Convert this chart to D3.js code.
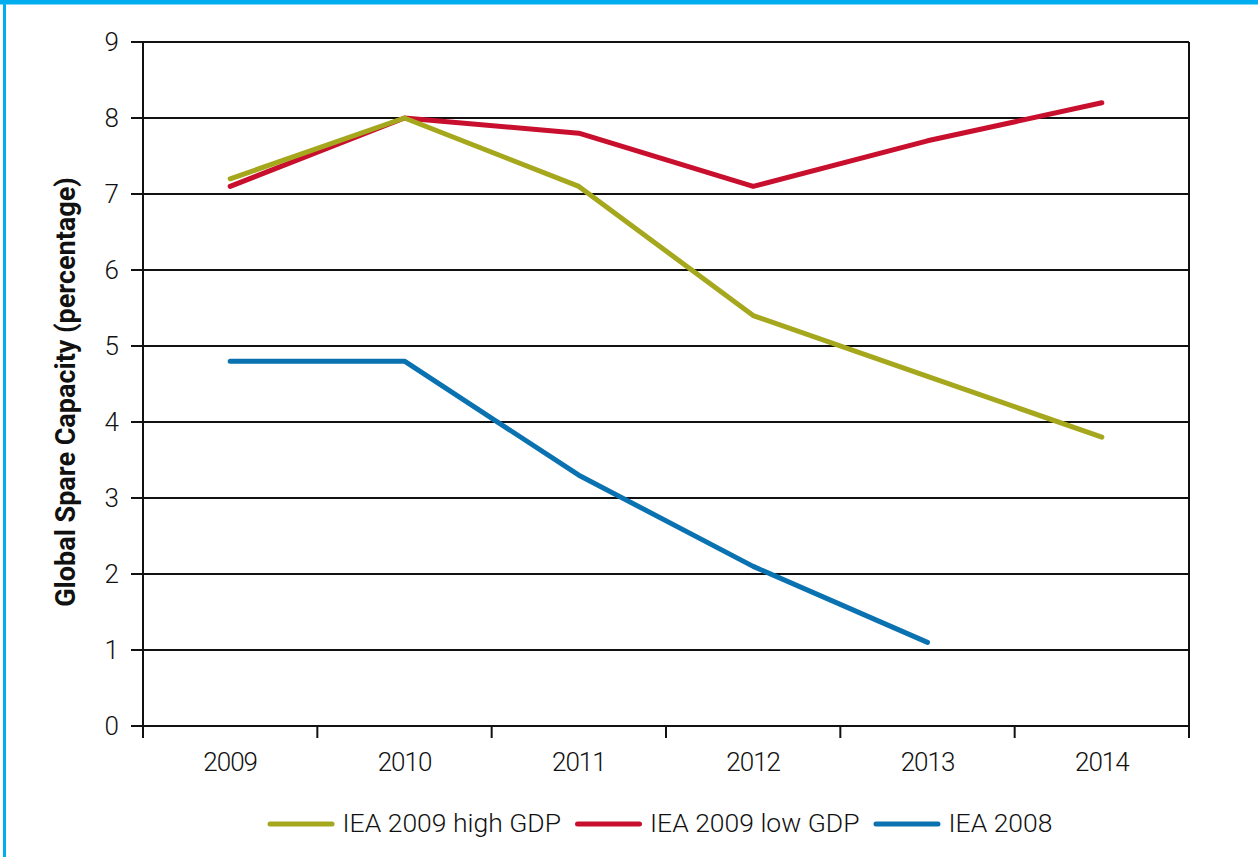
<!DOCTYPE html>
<html><head><meta charset="utf-8">
<script src="https://cdn.jsdelivr.net/npm/d3@7/dist/d3.min.js"></script>
<style>
html,body{margin:0;padding:0;background:#fff;}
svg{display:block;}
text{font-family:Roboto,"Liberation Sans",sans-serif;fill:#111;}
</style></head>
<body>
<script>
const years = ["2009","2010","2011","2012","2013","2014"];
const highGDP = [7.2, 8.0, 7.1, 5.4, 4.6, 3.8];
const lowGDP = [7.1, 8.0, 7.8, 7.1, 7.7, 8.2];
const iea2008 = [4.8, 4.8, 3.3, 2.1, 1.1, null];
const yTicks = [0,1,2,3,4,5,6,7,8,9];
const seriesNames = ["IEA 2009 high GDP","IEA 2009 low GDP","IEA 2008"];
const seriesColors = ["#a5a71c","#c8102e","#0a72b0"];

(function(){
const W = 1258, H = 857;
const svg = d3.select("body").append("svg").attr("width", W).attr("height", H);

// frame
svg.append("rect").attr("x",0).attr("y",0).attr("width",W).attr("height",4.5).attr("fill","#00aeef");
svg.append("rect").attr("x",3).attr("y",0).attr("width",3).attr("height",H).attr("fill","#00aeef");

const pL = 143, pR = 1189, pT = 42, pB = 726;
const x = d3.scaleBand().domain(years).range([pL, pR]);
const y = d3.scaleLinear().domain([0, 9]).range([pB, pT]);

// gridlines
svg.append("g").selectAll("line").data(yTicks).join("line")
  .attr("x1", pL - 12).attr("x2", pR)
  .attr("y1", d => y(d)).attr("y2", d => y(d))
  .attr("stroke", "#111").attr("stroke-width", 2);

// y labels
svg.append("g").selectAll("text").data(yTicks).join("text")
  .attr("x", pL - 24).attr("y", d => y(d)).attr("dy", "0.36em")
  .attr("text-anchor", "end").style("font-size", "26px").style("font-weight", "300").text(d => d);

// axis lines
svg.append("line").attr("x1", pL).attr("x2", pL).attr("y1", pT).attr("y2", pB + 12)
  .attr("stroke", "#111").attr("stroke-width", 2);
svg.append("line").attr("x1", pR).attr("x2", pR).attr("y1", pT).attr("y2", pB + 12)
  .attr("stroke", "#111").attr("stroke-width", 2);
// x ticks
const tickPos = years.map(d => x(d)).concat([pR]);
svg.append("g").selectAll("line").data(tickPos).join("line")
  .attr("x1", d => d).attr("x2", d => d).attr("y1", pB).attr("y2", pB + 12)
  .attr("stroke", "#111").attr("stroke-width", 2);
// x labels
svg.append("g").selectAll("text").data(years).join("text")
  .attr("x", d => x(d) + x.bandwidth()/2).attr("y", 771)
  .attr("text-anchor", "middle").style("font-size", "26px").style("font-weight", "300")
  .style("letter-spacing", "-1px").text(d => d);

// y title
svg.append("text").attr("transform", "translate(75," + ((pT+pB)/2 + 8) + ") rotate(-90)")
  .attr("text-anchor", "middle").style("font-size", "27px").style("font-weight", "bold")
  .text("Global Spare Capacity (percentage)");

const line = d3.line().defined(d => d != null)
  .x((d, i) => x(years[i]) + x.bandwidth()/2).y(d => y(d));

const order = [[lowGDP,1],[highGDP,0],[iea2008,2]];
order.forEach(([vals, k]) => {
  svg.append("path").datum(vals).attr("d", line)
    .attr("fill", "none").attr("stroke", seriesColors[k]).attr("stroke-width", 5)
    .attr("stroke-linecap", "round").attr("stroke-linejoin", "round");
});

// legend
const lg = svg.append("g");
const lineLen = 62, gap1 = 10, gap2 = 14;
const items = seriesNames.map((n, i) => {
  const g = lg.append("g");
  g.append("line").attr("x1", 2.5).attr("x2", 2.5 + lineLen).attr("y1", 824).attr("y2", 824)
    .attr("stroke", seriesColors[i]).attr("stroke-width", 5).attr("stroke-linecap", "round");
  const t = g.append("text").attr("x", lineLen + 5 + gap1 - 2).attr("y", 832)
    .style("font-size", "26.5px").style("font-weight", "300").text(n);
  return {g, w: lineLen + 5 + gap1 - 2 + t.node().getComputedTextLength()};
});
const total = d3.sum(items, d => d.w) + gap2 * (items.length - 1);
let cx = 660 - total / 2;
items.forEach(it => { it.g.attr("transform", `translate(${cx},0)`); cx += it.w + gap2; });
})();
</script>
</body></html>
